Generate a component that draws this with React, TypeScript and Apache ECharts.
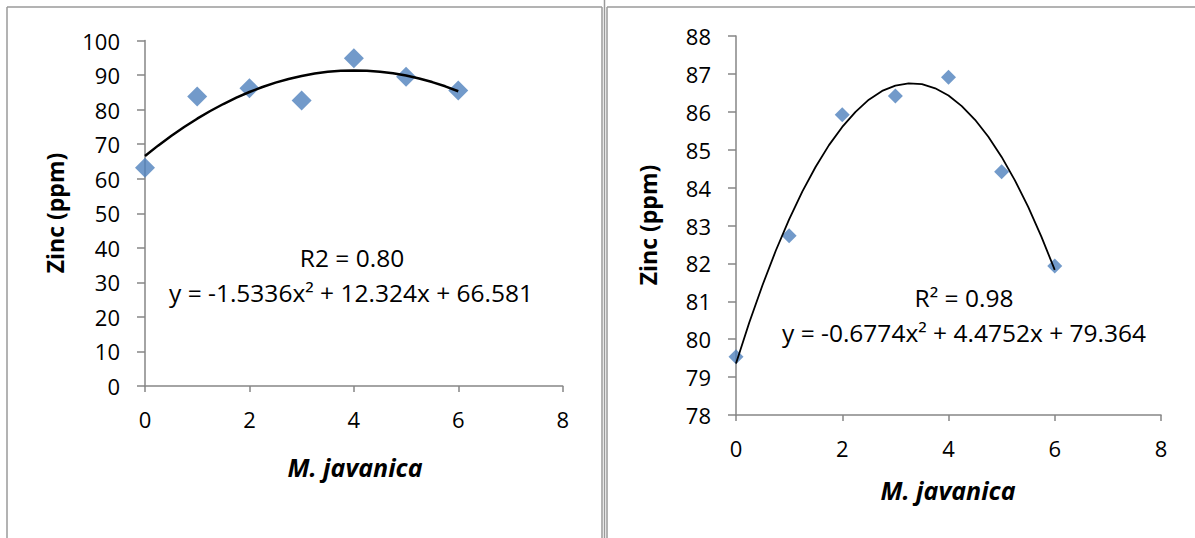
import React, { useEffect, useRef } from "react";
import * as echarts from "echarts";

// ---- data ----
const doses = [0, 1, 2, 3, 4, 5, 6];
const zincLeft = [63.2, 83.8, 86.2, 82.6, 94.85, 89.5, 85.5];
const zincRight = [79.54, 82.73, 85.92, 86.42, 86.91, 84.42, 81.93];

// trend line points
const trendX = [0, 0.25, 0.5, 0.75, 1, 1.25, 1.5, 1.75, 2, 2.25, 2.5, 2.75, 3, 3.25, 3.5, 3.75, 4, 4.25, 4.5, 4.75, 5, 5.25, 5.5, 5.75, 6];
const trendLeft = [66.58, 69.57, 72.36, 74.96, 77.37, 79.59, 81.62, 83.45, 85.09, 86.55, 87.81, 88.87, 89.75, 90.44, 90.93, 91.23, 91.34, 91.26, 90.98, 90.52, 89.86, 89.01, 87.97, 86.74, 85.32];
const trendRight = [79.36, 80.44, 81.43, 82.34, 83.16, 83.9, 84.55, 85.12, 85.6, 86.0, 86.32, 86.55, 86.69, 86.75, 86.73, 86.62, 86.43, 86.15, 85.79, 85.34, 84.81, 84.19, 83.49, 82.7, 81.83];

const leftYTicks = { min: 0, max: 100, interval: 10 };
const rightYTicks = { min: 78, max: 88, interval: 1 };
const xTicks = { min: 0, max: 8, interval: 2 };

const leftLabels = ["R2 = 0.80", "y = -1.5336x\u00B2 + 12.324x + 66.581"];
const rightLabels = ["R\u00B2 = 0.98", "y = -0.6774x\u00B2 + 4.4752x + 79.364"];
const xName = "M. javanica";
const yName = "Zinc (ppm)";

const FONT = "'Open Sans', 'Noto Sans', sans-serif";
const AXIS_COLOR = "#868686";
const MARK = "#4F81BD";

export default function App() {
  const ref = useRef<HTMLDivElement>(null);
  useEffect(() => {
    if (!ref.current) return;
    const chart = echarts.init(ref.current, null, { renderer: "svg" });
    const axisCommon = {
      axisLine: { show: true, lineStyle: { color: AXIS_COLOR, width: 1.5 } },
      axisTick: { show: true, inside: false, lineStyle: { color: AXIS_COLOR, width: 1.5 } },
      splitLine: { show: false },
    };
    const xAxis = (gi: number) => ({
      type: "value",
      gridIndex: gi,
      ...xTicks,
      ...axisCommon,
      axisTick: { ...axisCommon.axisTick, length: 6 },
      axisLabel: { fontFamily: FONT, fontSize: 22, color: "#000", margin: 22 },
    });
    const yAxis = (gi: number, t: any) => ({
      type: "value",
      gridIndex: gi,
      ...t,
      ...axisCommon,
      axisTick: { ...axisCommon.axisTick, length: 8 },
      axisLabel: { fontFamily: FONT, fontSize: 22, color: "#000", margin: 25 },
    });
    const textStyle = (size: number, weight: string, italic = false) => ({
      fontFamily: FONT,
      fontSize: size,
      fontWeight: weight,
      fontStyle: italic ? "italic" : "normal",
      fill: "#000",
      textAlign: "center",
      textVerticalAlign: "middle",
    });
    const border = { stroke: "#9a9a9a", lineWidth: 1.5 };
    chart.setOption({
      animation: false,
      grid: [
        { left: 145, top: 40.5, width: 417.7, height: 345.5 },
        { left: 736, top: 36, width: 425, height: 379 },
      ],
      xAxis: [xAxis(0), xAxis(1)],
      yAxis: [yAxis(0, leftYTicks), yAxis(1, rightYTicks)],
      series: [
        {
          type: "scatter",
          xAxisIndex: 0,
          yAxisIndex: 0,
          symbol: "diamond",
          symbolSize: 20,
          itemStyle: { color: MARK },
          data: doses.map((d, i) => [d, zincLeft[i]]),
          z: 2,
        },
        {
          type: "line",
          xAxisIndex: 0,
          yAxisIndex: 0,
          smooth: false,
          showSymbol: false,
          lineStyle: { color: "#000", width: 2.5 },
          data: trendX.map((d, i) => [d, trendLeft[i]]),
          z: 3,
        },
        {
          type: "scatter",
          xAxisIndex: 1,
          yAxisIndex: 1,
          symbol: "diamond",
          symbolSize: 15,
          itemStyle: { color: MARK },
          data: doses.map((d, i) => [d, zincRight[i]]),
          z: 2,
        },
        {
          type: "line",
          xAxisIndex: 1,
          yAxisIndex: 1,
          smooth: false,
          showSymbol: false,
          lineStyle: { color: "#000", width: 1.8 },
          data: trendX.map((d, i) => [d, trendRight[i]]),
          z: 3,
        },
      ],
      graphic: [
        { type: "line", shape: { x1: 7, y1: 7, x2: 602, y2: 7 }, style: border },
        { type: "line", shape: { x1: 7, y1: 7, x2: 7, y2: 538 }, style: border },
        { type: "line", shape: { x1: 602, y1: 7, x2: 602, y2: 538 }, style: border },
        { type: "line", shape: { x1: 604.5, y1: 0, x2: 604.5, y2: 538 }, style: border },
        { type: "line", shape: { x1: 607, y1: 7, x2: 607, y2: 538 }, style: border },
        { type: "line", shape: { x1: 607, y1: 7, x2: 1195, y2: 7 }, style: border },
        { type: "text", x: 352, y: 257, style: { text: leftLabels[0], ...textStyle(24.5, "normal") } },
        { type: "text", x: 351, y: 292, style: { text: leftLabels[1], ...textStyle(24.5, "normal") } },
        { type: "text", x: 964, y: 297, style: { text: rightLabels[0], ...textStyle(24.5, "normal") } },
        { type: "text", x: 964, y: 332, style: { text: rightLabels[1], ...textStyle(24.5, "normal") } },
        { type: "text", x: 355, y: 467, style: { text: xName, ...textStyle(25, "bold", true) } },
        { type: "text", x: 948, y: 490, style: { text: xName, ...textStyle(25, "bold", true) } },
        { type: "text", x: 55, y: 213, rotation: Math.PI / 2, style: { text: yName, ...textStyle(23, "bold") } },
        { type: "text", x: 648, y: 225, rotation: Math.PI / 2, style: { text: yName, ...textStyle(23, "bold") } },
      ],
    });
    return () => chart.dispose();
  }, []);
  return (
    <div
      ref={ref}
      style={{ position: "absolute", left: 0, top: 0, width: 1195, height: 538, background: "#fff" }}
    />
  );
}
